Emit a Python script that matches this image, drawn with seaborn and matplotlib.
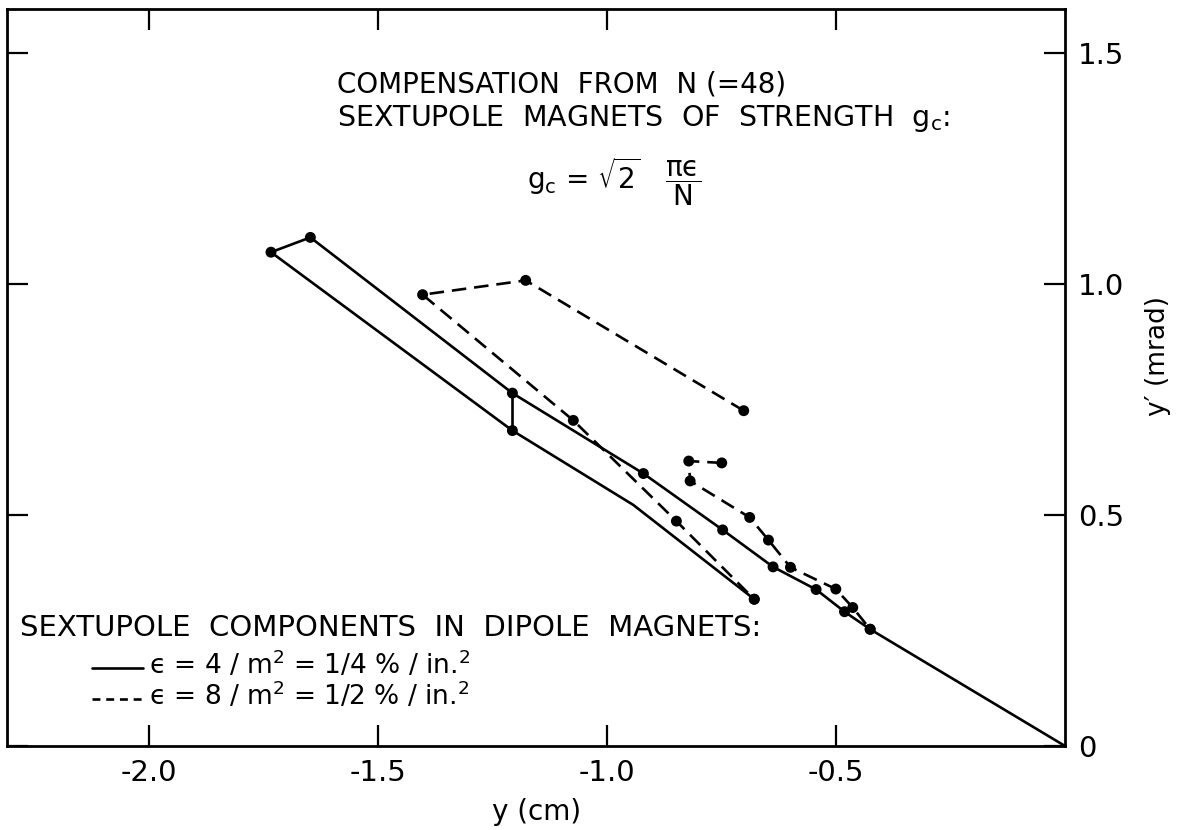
"""Sextupole compensation phase-space plot (y vs y')."""

import pandas as pd
import matplotlib
matplotlib.use("Agg")
import matplotlib.pyplot as plt
import seaborn as sns

sns.set_theme(style="ticks")
plt.rcParams['font.family'] = ['DejaVu Sans']
plt.rcParams['mathtext.default'] = 'regular'
plt.rcParams['axes.unicode_minus'] = False
plt.rcParams['text.color'] = 'black'
plt.rcParams['axes.labelcolor'] = 'black'

# solid path: eps = 4/m^2
solid_x = [0.0, -0.426, -0.482, -0.544, -0.638, -0.748, -0.921, -1.207,
           -1.648, -1.734, -1.207, -0.943, -0.679]
solid_y = [0.0, 0.253, 0.291, 0.339, 0.388, 0.468, 0.590, 0.764,
           1.101, 1.069, 0.683, 0.522, 0.318]
solid_dot = [False, True, True, True, True, True, True, True,
             True, True, True, False, True]

# short vertical link between the two solid branches
link_x = [-1.207, -1.207]
link_y = [0.764, 0.683]

# dashed paths: eps = 8/m^2
dash1_x = [-0.702, -1.178, -1.403, -1.074, -0.849, -0.679]
dash1_y = [0.726, 1.008, 0.977, 0.705, 0.487, 0.318]
dash2_x = [-0.750, -0.822, -0.819, -0.689, -0.648, -0.600, -0.501, -0.464, -0.426]
dash2_y = [0.613, 0.617, 0.574, 0.495, 0.446, 0.387, 0.340, 0.300, 0.253]

x_ticks = [-2.0, -1.5, -1.0, -0.5]
x_ticklabels = ["-2.0", "-1.5", "-1.0", "-0.5"]
y_ticks = [0, 0.5, 1.0, 1.5]
y_ticklabels = ["0", "0.5", "1.0", "1.5"]

DASH = (5.5, 3)


def build_frame():
    parts = [
        pd.DataFrame({'x': solid_x, 'y': solid_y, 'dot': solid_dot,
                      'seg': 's1', 'kind': 'solid'}),
        pd.DataFrame({'x': link_x, 'y': link_y, 'dot': False,
                      'seg': 's2', 'kind': 'solid'}),
        pd.DataFrame({'x': dash1_x, 'y': dash1_y, 'dot': True,
                      'seg': 'd1', 'kind': 'dashed'}),
        pd.DataFrame({'x': dash2_x, 'y': dash2_y, 'dot': True,
                      'seg': 'd2', 'kind': 'dashed'}),
    ]
    return pd.concat(parts, ignore_index=True)


df = build_frame()

fig = plt.figure(figsize=(11.85, 8.3), dpi=100)
ax = fig.add_axes([0.006, 0.101, 0.893, 0.888])

sns.lineplot(data=df, x='x', y='y', units='seg', style='kind',
             dashes={'solid': '', 'dashed': DASH}, estimator=None,
             sort=False, color='black', linewidth=1.9, legend=False, ax=ax)
sns.scatterplot(data=df[df['dot']], x='x', y='y', color='black', s=62,
                edgecolor='none', legend=False, ax=ax, zorder=5)

ax.set_xlim(-2.31, 0)
ax.set_ylim(0, 1.595)
ax.set_xticks(x_ticks)
ax.set_xticklabels(x_ticklabels)
ax.set_yticks(y_ticks)
ax.set_yticklabels(y_ticklabels)
ax.tick_params(direction='in', length=15, width=1.6, top=True, bottom=True,
               left=True, right=True, labelleft=False, labelright=True,
               labelsize=21, pad=9, colors='black')
for sp in ax.spines.values():
    sp.set_linewidth(2.0)
    sp.set_color('black')

ax.set_xlabel("y (cm)", fontsize=20, labelpad=8)
ax.yaxis.set_label_position('right')
ax.set_ylabel("y\u2032 (mrad)", fontsize=19, rotation=90)
ax.yaxis.set_label_coords(1.075, 0.53)

# annotation block at top
ax.text(0.312, 0.898, "COMPENSATION  FROM  N (=48)", transform=ax.transAxes,
        fontsize=20, va='center', ha='left')
ax.text(0.312, 0.851, "SEXTUPOLE  MAGNETS  OF  STRENGTH  g$_c$:",
        transform=ax.transAxes, fontsize=20.5, va='center', ha='left')
ax.text(0.491, 0.766, "g$_c$ = $\\sqrt{2}\\ \\ \\ \\dfrac{\\pi\u03f5}{N}$",
        transform=ax.transAxes, fontsize=20, va='center', ha='left')

# legend block at bottom left
ax.text(0.012, 0.160, "SEXTUPOLE  COMPONENTS  IN  DIPOLE  MAGNETS:",
        transform=ax.transAxes, fontsize=21, va='center', ha='left')
ax.plot([0.080, 0.128], [0.106, 0.106], transform=ax.transAxes,
        color='black', lw=1.9)
ax.plot([0.080, 0.128], [0.064, 0.064], transform=ax.transAxes,
        color='black', lw=1.9, dashes=(3.0, 2.2))
ax.text(0.134, 0.111, "\u03f5 = 4 / m$^2$ = 1/4 % / in.$^2$",
        transform=ax.transAxes, fontsize=19, va='center', ha='left')
ax.text(0.134, 0.069, "\u03f5 = 8 / m$^2$ = 1/2 % / in.$^2$",
        transform=ax.transAxes, fontsize=19, va='center', ha='left')

fig.savefig("out.png", dpi=100)
